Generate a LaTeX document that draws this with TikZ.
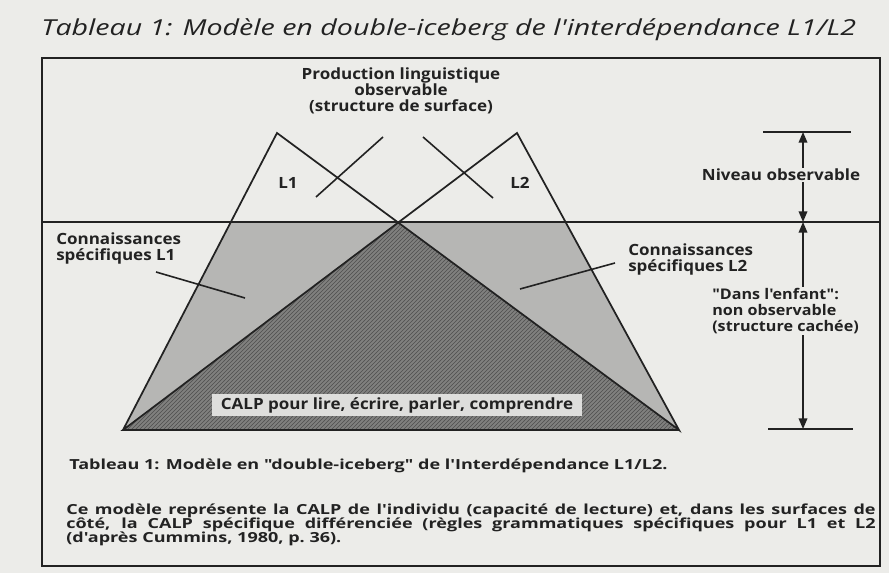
\documentclass[tikz,border=0pt]{standalone}
\usepackage{fontspec}
\setmainfont{Open Sans}
\newfontfamily\lblfont{Open Sans}[FakeStretch=1.1]
\newfontfamily\titlefont{Open Sans}[FakeStretch=1.3]
\newfontfamily\notefont{Open Sans}[FakeStretch=1.3]
\usetikzlibrary{arrows.meta,calc,patterns}
\definecolor{paper}{RGB}{236,236,233}
\definecolor{dotgray}{RGB}{182,182,180}
\definecolor{hatchgray}{RGB}{128,128,126}
\definecolor{calpbg}{RGB}{222,222,220}
\definecolor{ink}{RGB}{34,34,34}

\begin{document}
\begin{tikzpicture}[x=0.75pt,y=0.75pt,yscale=-1,xscale=1,
  lbl/.style={font=\lblfont\bfseries\fontsize{11.6}{12}\selectfont, text=ink, align=center, inner sep=0.75pt},
  edge/.style={draw=ink, line width=1.3pt},
  tick/.style={draw=ink, line width=1.2pt},
  dimarrow/.style={draw=ink, line width=1.1pt, -{Triangle[length=8pt,width=6.5pt]}}]

%Background and frame
\fill[paper] (0,0) rectangle (889,573);
\useasboundingbox (0,0) rectangle (889,573);
\draw[ink, line width=1.4pt] (42,58) rectangle (880,566);

% Title
\node[anchor=west, text=ink, inner sep=0.75pt, font=\titlefont\itshape\fontsize{16.5}{18}\selectfont] (title) at (40,30) {Tableau 1: Modèle en double-iceberg de l'interdépendance L1/L2};

%Iceberg corners
\coordinate (A1) at (277,133);
\coordinate (A2) at (517,133);
\coordinate (B1) at (123,430);
\coordinate (B2) at (679,430);
\coordinate (C) at (398,222);
\coordinate (W1) at ($(A1)!0.2997!(B1)$);
\coordinate (W2) at ($(A2)!0.2997!(B2)$);

%Shape: hidden parts
\fill[dotgray] (W1) -- (W2) -- (B2) -- (B1) -- cycle;
\fill[hatchgray] (C) -- (B2) -- (B1) -- cycle;
\fill[pattern=north east lines, pattern color=ink!80] (C) -- (B2) -- (B1) -- cycle;

%Straight Lines: water line
\draw[edge] (42,222) -- (880,222);
%Straight Lines: the two icebergs
\draw[edge] (B1) -- (A1) -- (B2) -- (A2) -- (B1) -- (B2);
%Straight Lines: crossing ticks
\draw[tick] (383,137) -- (316,197);
\draw[tick] (423,137) -- (493,198);

% Text Node
\node[lbl] (prod) at (401,91) {Production linguistique\\observable\\(structure de surface)};
% Text Node
\node[lbl] (l1) at (288,183) {L1};
% Text Node
\node[lbl] (l2) at (520,183) {L2};
% Text Node
\node[lbl, align=left, anchor=west] (kl1) at (55,248) {Connaissances\\spécifiques L1};
% Text Node
\node[lbl, align=left, anchor=west] (kl2) at (627,259) {Connaissances\\spécifiques L2};
\coordinate (p1) at (156,272);
\coordinate (p1e) at (245,298);
\coordinate (p2) at (615,263);
\coordinate (p2e) at (520,289);
\draw[tick] (p1) -- (p1e);
\draw[tick] (p2) -- (p2e);

% Text Node
\node[fill=calpbg, text=ink, inner sep=0pt, minimum width=278pt, minimum height=17pt, font=\lblfont\bfseries\fontsize{11.6}{12}\selectfont] (calp) at (397,405) {CALP pour lire, écrire, parler, comprendre};

%Levels on the right
\coordinate (topL) at (803,132);
\coordinate (midL) at (803,222);
\coordinate (botL) at (803,429);
\draw[edge] (763,132) -- (851,132);
\draw[edge] (768,429) -- (853,429);
\node[lbl] (niv) at (781,175) {Niveau observable};
\node[lbl, align=left, anchor=north west, font=\lblfont\bfseries\fontsize{11}{12}\selectfont] (enf) at (711,287) {"Dans l'enfant":\\non observable\\(structure cachée)};
\draw[dimarrow] (topL |- niv.north) -- (topL);
\draw[dimarrow] (topL |- niv.south) -- (midL);
\draw[dimarrow] (topL |- enf.north) -- (midL);
\draw[dimarrow] (topL |- enf.south) -- (botL);

% Caption
\node[anchor=west, text=ink, inner sep=0.75pt, font=\notefont\bfseries\fontsize{10.4}{11}\selectfont] (cap) at (68,466) {Tableau 1: Modèle en "double-iceberg" de l'Interdépendance L1/L2.};
\node[anchor=north west, text=ink, inner sep=0.75pt, text width=607pt, align=justify, font=\notefont\bfseries\fontsize{10.4}{10.5}\selectfont] (note) at (65,503) {Ce modèle représente la CALP de l'individu (capacité de lecture) et, dans les surfaces de\linebreak côté, la CALP spécifique différenciée (règles grammatiques spécifiques pour L1 et L2\linebreak (d'après Cummins, 1980, p.~36).};
\end{tikzpicture}
\end{document}
